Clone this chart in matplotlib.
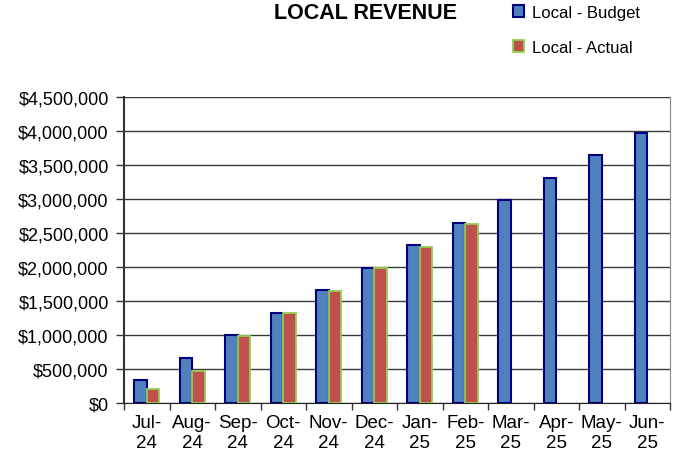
import matplotlib
matplotlib.use('Agg')
import matplotlib.pyplot as plt
from matplotlib.ticker import FuncFormatter, MultipleLocator
import numpy as np

plt.rcParams['font.family'] = ['Liberation Sans', 'DejaVu Sans']

#data
months = ['Jul-\n24', 'Aug-\n24', 'Sep-\n24', 'Oct-\n24', 'Nov-\n24', 'Dec-\n24',
          'Jan-\n25', 'Feb-\n25', 'Mar-\n25', 'Apr-\n25', 'May-\n25', 'Jun-\n25']
budget = [331000, 662000, 993000, 1324000, 1655000, 1986000,
          2317000, 2648000, 2979000, 3310000, 3641000, 3972000]
actual = [210000, 470000, 990000, 1320000, 1640000, 1980000, 2300000, 2630000]

fig = plt.figure(figsize=(6.84, 4.56), dpi=100)
ax = fig.add_axes([124/684, 1-404/456, 546/684, 306/456])

x = np.arange(len(months))
w = 0.28
ax.bar(x[:len(budget)] - w/2, budget, w, color='#4F81BD', edgecolor='#000080',
       linewidth=1.5, label='Local - Budget', zorder=3)
ax.bar(x[:len(actual)] + w/2, actual, w, color='#C0504D', edgecolor='#92D050',
       linewidth=1.3, label='Local - Actual', zorder=3)

ax.set_xlim(-0.5, len(months) - 0.5)
ax.set_ylim(0, 4500000)
ax.yaxis.set_major_locator(MultipleLocator(500000))
ax.yaxis.set_major_formatter(FuncFormatter(lambda v, p: '${:,.0f}'.format(v)))
ax.grid(axis='y', color='#3a3a3a', linewidth=1.0, zorder=0)

# month labels centred, ticks at category boundaries
ax.set_xticks(x)
ax.set_xticklabels(months, fontsize=13.5, linespacing=1.2)
ax.tick_params(axis='x', length=0, pad=8)
ax.set_xticks(np.arange(-0.5, len(months)), minor=True)
ax.tick_params(axis='x', which='minor', length=5, width=1, color='#333333')
ax.tick_params(axis='y', length=6, width=1, color='#333333', labelsize=13, pad=5)

ax.spines['top'].set_visible(False)
ax.spines['left'].set_color('#333333')
ax.spines['left'].set_linewidth(1.5)
ax.spines['bottom'].set_color('#222222')
ax.spines['right'].set_color('#888888')

fig.text(366/684, 0.970, 'LOCAL REVENUE', fontsize=15.5, fontweight='bold',
         ha='center', va='center')
fig.legend(loc='upper left', bbox_to_anchor=(513/684, 0.987), frameon=False,
           fontsize=12, handlelength=0.66, handleheight=0.66, handletextpad=0.5,
           labelspacing=1.2, borderpad=0, borderaxespad=0)

fig.savefig('out.png', dpi=100)
